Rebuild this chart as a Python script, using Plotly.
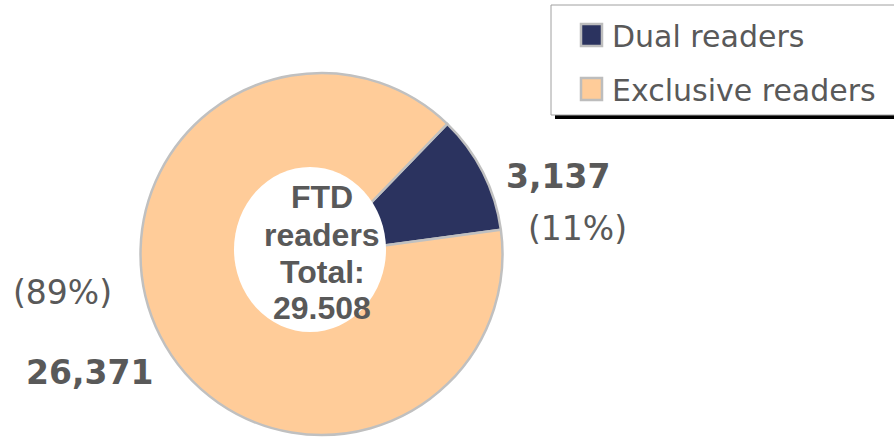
import plotly.graph_objects as go

# dados
categorias = ['Dual readers', 'Exclusive readers']
leitores = [3137, 26371]
cores = ['#2b335f', '#ffcc99']

W, H = 894, 439
CINZA = '#595959'
total = sum(leitores)
pct = [round(v / total * 100) for v in leitores]


def px(x, y):
    """converte pixels da tela para coordenadas paper"""
    return x / W, 1 - y / H


cx, cy, r = 321.5, 254, 181
x0, y1 = px(cx - r, cy - r)
x1, y0 = px(cx + r, cy + r)

fig = go.Figure()
fig.add_trace(go.Pie(
    labels=categorias,
    values=leitores,
    sort=False,
    direction='clockwise',
    rotation=44,
    marker=dict(colors=cores, line=dict(color='#c0c0c0', width=2.5)),
    textinfo='none',
    hoverinfo='label+value+percent',
    domain=dict(x=[x0, x1], y=[y0, y1]),
    showlegend=False,
))

shapes = []
# furo central
hx0, hy1 = px(234, 167)
hx1, hy0 = px(386, 332)
shapes.append(dict(type='circle', xref='paper', yref='paper', layer='above',
                   x0=hx0, x1=hx1, y0=hy0, y1=hy1,
                   fillcolor='white', line=dict(width=0)))

# legenda manual com sombra
sx0, sy1 = px(555, 8)
sx1, sy0 = px(900, 119)
shapes.append(dict(type='rect', xref='paper', yref='paper', layer='above',
                   x0=sx0, x1=sx1, y0=sy0, y1=sy1,
                   fillcolor='black', line=dict(width=0)))
lx0, ly1 = px(551, 5)
lx1, ly0 = px(900, 115)
shapes.append(dict(type='rect', xref='paper', yref='paper', layer='above',
                   x0=lx0, x1=lx1, y0=ly0, y1=ly1,
                   fillcolor='white', line=dict(color='#a0a0a0', width=1)))

annotations = []
for i, (nome, cor) in enumerate(zip(categorias, cores)):
    yc = 35 + i * 54
    qx0, qy1 = px(581, yc - 11)
    qx1, qy0 = px(602, yc + 11)
    shapes.append(dict(type='rect', xref='paper', yref='paper', layer='above',
                       x0=qx0, x1=qx1, y0=qy0, y1=qy1,
                       fillcolor=cor, line=dict(color='#bdbdbd', width=2.5)))
    tx, ty = px(610, yc + 1)
    annotations.append(dict(x=tx, y=ty, xref='paper', yref='paper', text=nome,
                            showarrow=False, xanchor='left', yanchor='middle',
                            font=dict(family='DejaVu Sans', size=30, color=CINZA)))

# rótulos dos valores
pos_valor = [(558, 177), (89, 372)]
pos_pct = [(577, 228), (62, 292)]
for v, p, (vx, vy), (ppx, ppy) in zip(leitores, pct, pos_valor, pos_pct):
    ax, ay = px(vx, vy)
    annotations.append(dict(x=ax, y=ay, xref='paper', yref='paper',
                            text=f'<b>{v:,}</b>', showarrow=False,
                            xanchor='center', yanchor='middle',
                            font=dict(family='DejaVu Sans', size=33, color=CINZA)))
    bx, by = px(ppx, ppy)
    annotations.append(dict(x=bx, y=by, xref='paper', yref='paper',
                            text=f'({p}%)', showarrow=False,
                            xanchor='center', yanchor='middle',
                            font=dict(family='DejaVu Sans', size=33, color=CINZA)))

# texto central, uma linha por anotação
total_txt = f'{total:,}'.replace(',', '.')
linhas = ['FTD', 'readers', 'Total:', total_txt]
for linha, ly in zip(linhas, [197, 235, 272, 308]):
    mx, my = px(322, ly)
    annotations.append(dict(x=mx, y=my, xref='paper', yref='paper',
                            text=f'<b>{linha}</b>', showarrow=False,
                            xanchor='center', yanchor='middle',
                            font=dict(family='Liberation Sans', size=32, color=CINZA)))

fig.update_layout(
    width=W, height=H,
    margin=dict(l=0, r=0, t=0, b=0),
    paper_bgcolor='white',
    plot_bgcolor='white',
    shapes=shapes,
    annotations=annotations,
)

# tira a margem padrão do body para o gráfico começar no canto
fig.write_html('out.html', config={'displayModeBar': False},
               post_script="document.body.style.margin='0';")
